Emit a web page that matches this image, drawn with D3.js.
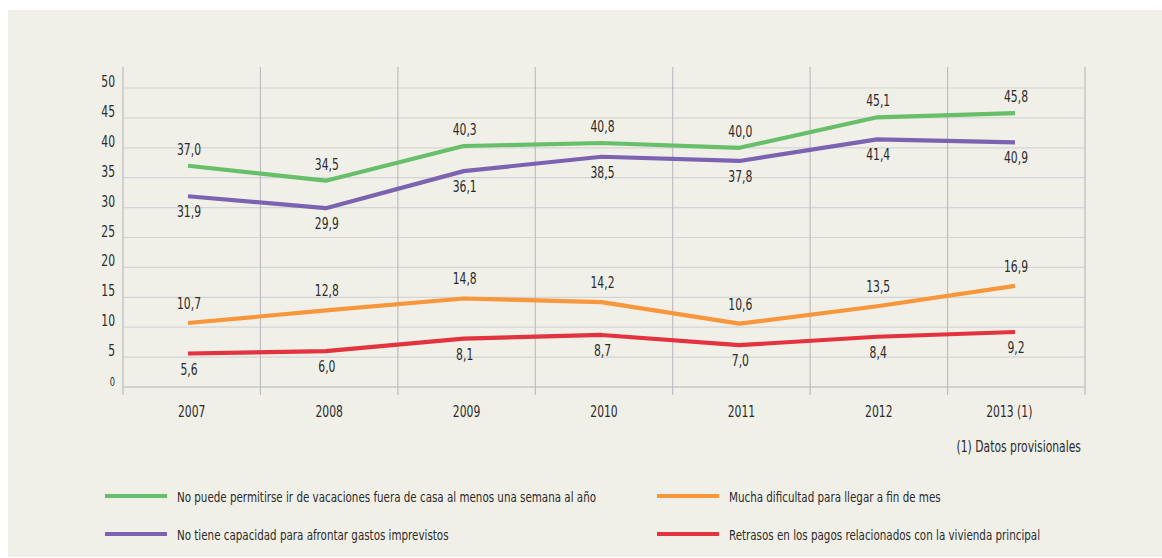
<!DOCTYPE html>
<html>
<head>
<meta charset="utf-8">
<script src="https://cdn.jsdelivr.net/npm/d3@7"></script>
<style>
  html, body { margin: 0; padding: 0; background: #ffffff; }
  svg { display: block; }
  text { font-family: "Liberation Sans Narrow", "DejaVu Sans Condensed", "Roboto Condensed", sans-serif; fill: #2b2b2b; }
</style>
</head>
<body>
<svg id="chart" width="1162" height="558"></svg>
<script>
// ---- data ----
const years = ["2007", "2008", "2009", "2010", "2011", "2012", "2013 (1)"];
const vacaciones = [37.0, 34.5, 40.3, 40.8, 40.0, 45.1, 45.8];
const imprevistos = [31.9, 29.9, 36.1, 38.5, 37.8, 41.4, 40.9];
const finDeMes = [10.7, 12.8, 14.8, 14.2, 10.6, 13.5, 16.9];
const retrasos = [5.6, 6.0, 8.1, 8.7, 7.0, 8.4, 9.2];
const yTicks = [0, 5, 10, 15, 20, 25, 30, 35, 40, 45, 50];
const seriesNames = [
  "No puede permitirse ir de vacaciones fuera de casa al menos una semana al año",
  "No tiene capacidad para afrontar gastos imprevistos",
  "Mucha dificultad para llegar a fin de mes",
  "Retrasos en los pagos relacionados con la vivienda principal"
];
const footnote = "(1) Datos provisionales";

(function () {
const series = [
  { name: seriesNames[0], values: vacaciones, color: "#68bf69", dy: -11 },
  { name: seriesNames[1], values: imprevistos, color: "#7c63b2", dy: 21 },
  { name: seriesNames[2], values: finDeMes, color: "#f7963a", dy: -14 },
  { name: seriesNames[3], values: retrasos, color: "#e2333f", dy: 21 }
];

const SX = 0.8; // condensed look
const svg = d3.select("#chart");

// background panel
svg.append("rect").attr("x", 8).attr("y", 10).attr("width", 1154).attr("height", 547)
  .attr("fill", "#f1f0e8");

const pLeft = 123, pRight = 1085, pTop = 67, pBottom = 387;

const xBand = d3.scaleBand().domain(years).range([pLeft, pRight]).padding(0);
const xPt = d3.scalePoint().domain(years).range([188, 1015]);
const y = d3.scaleLinear().domain([0, 50]).range([pBottom, 88]);

// horizontal grid lines
svg.append("g").selectAll("line").data(yTicks).join("line")
  .attr("x1", pLeft).attr("x2", pRight)
  .attr("y1", d => y(d)).attr("y2", d => y(d))
  .attr("stroke", d => d === 0 ? "#d2d2d2" : "#d4d4d6")
  .attr("stroke-width", d => d === 0 ? 2 : 1.2);

// vertical grid lines
const vLines = [pLeft].concat(years.map(d => xBand(d) + xBand.bandwidth()));
svg.append("g").selectAll("line").data(vLines).join("line")
  .attr("x1", d => d).attr("x2", d => d)
  .attr("y1", pTop).attr("y2", 395)
  .attr("stroke", "#bcbcc4").attr("stroke-width", 1.2);

// y tick labels
svg.append("g").selectAll("text").data(yTicks).join("text")
  .attr("transform", d => `translate(115,${y(d) - 1}) scale(${SX},1)`)
  .attr("text-anchor", "end")
  .attr("font-size", d => d === 0 ? 11.5 : 15)
  .text(d => d);

// x labels
svg.append("g").selectAll("text").data(years).join("text")
  .attr("transform", d => `translate(${xBand(d) + xBand.bandwidth() / 2 - (d.length > 4 ? 7 : 0)},417) scale(${SX},1)`)
  .attr("text-anchor", "middle")
  .attr("font-size", 15)
  .text(d => d);

// footnote
svg.append("text").attr("transform", `translate(1081,452) scale(${SX},1)`).attr("text-anchor", "end")
  .attr("font-size", 15).text(footnote);

// lines
const line = d3.line().x((d, i) => xPt(years[i])).y(d => y(d));
series.forEach(s => {
  svg.append("path").datum(s.values)
    .attr("d", line)
    .attr("fill", "none")
    .attr("stroke", s.color)
    .attr("stroke-width", 4.2)
    .attr("stroke-linejoin", "round");
});

// value labels
const fmt = v => d3.format(".1f")(v).replace(".", ",");
series.forEach(s => {
  svg.append("g").selectAll("text").data(s.values).join("text")
    .attr("transform", (d, i) => `translate(${xPt(years[i]) + 1},${y(d) + s.dy}) scale(${SX},1)`)
    .attr("text-anchor", "middle")
    .attr("font-size", 15)
    .text(d => fmt(d));
});

// legend
const legendItems = [
  { s: series[0], x: 105, y: 496 },
  { s: series[1], x: 105, y: 534 },
  { s: series[2], x: 657, y: 496 },
  { s: series[3], x: 657, y: 534 }
];
const lg = svg.append("g").selectAll("g").data(legendItems).join("g")
  .attr("transform", d => `translate(${d.x},${d.y})`);
lg.append("line").attr("x1", 0).attr("x2", 62).attr("y1", 0).attr("y2", 0)
  .attr("stroke", d => d.s.color).attr("stroke-width", 4.2);
lg.append("text").attr("transform", `translate(72,5.5) scale(0.82,1)`).attr("font-size", 14)
  .text(d => d.s.name);
})();
</script>
</body>
</html>
